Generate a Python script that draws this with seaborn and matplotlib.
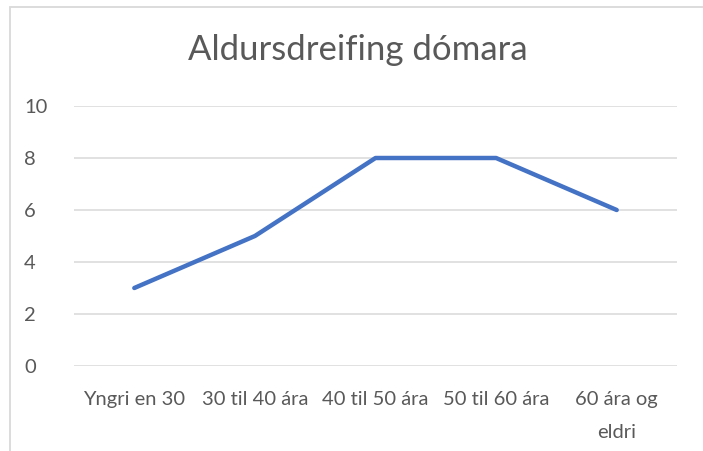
import matplotlib
matplotlib.use("Agg")
import matplotlib.pyplot as plt
import seaborn as sns
import pandas as pd
from matplotlib.patches import Rectangle

categories = ["Yngri en 30", "30 til 40 ára", "40 til 50 ára", "50 til 60 ára", "60 ára og\neldri"]
values = [3, 5, 8, 8, 6]
title = "Aldursdreifing dómara"

sns.set_theme(style="white")
plt.rcParams["font.family"] = ["Lato", "DejaVu Sans"]

fig = plt.figure(figsize=(7.03, 4.51), dpi=100)
ax = fig.add_axes([74/703, 1-366/451, (677-74)/703, (366-106)/451])

df = pd.DataFrame({"cat": range(len(categories)), "val": values})
sns.lineplot(data=df, x="cat", y="val", ax=ax, color="#4472C4", linewidth=3.2)

ax.set_xlim(-0.5, len(categories) - 0.5)
ax.set_ylim(0, 10)
ax.set_yticks(range(0, 11, 2))
ax.set_xticks(range(len(categories)))
ax.set_xticklabels(categories, fontsize=14.5, color="#595959", linespacing=2.15)
ax.tick_params(axis="y", labelsize=14.5, labelcolor="#595959", length=0, pad=36)
ax.tick_params(axis="x", length=0, pad=18)
for lbl in ax.get_yticklabels():
    lbl.set_horizontalalignment("left")
ax.yaxis.grid(True, color="#D9D9D9", linewidth=1.1)
ax.xaxis.grid(False)
for s in ax.spines.values():
    s.set_visible(False)
ax.set_xlabel("")
ax.set_ylabel("")

fig.text(358/703, 1-50/451, title, ha="center", va="center", fontsize=25, color="#595959")

fig.patches.append(Rectangle((10/703, -0.05), 1.2, 1 - 7/451 + 0.05, transform=fig.transFigure,
                             fill=False, edgecolor="#D9D9D9", linewidth=1.3))

fig.savefig("out.png", dpi=100)
